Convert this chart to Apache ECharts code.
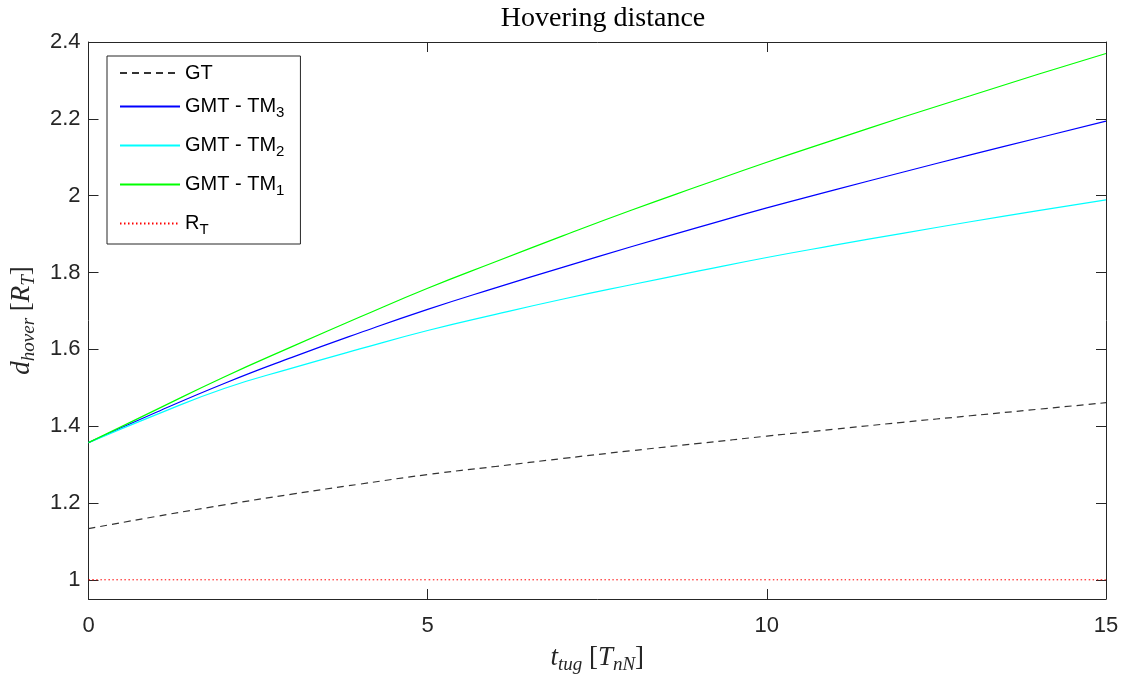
<!DOCTYPE html>
<html>
<head>
<meta charset="utf-8">
<script src="https://cdn.jsdelivr.net/npm/echarts@6/dist/echarts.min.js"></script>
<style>html,body{margin:0;padding:0;background:#fff}#c{width:1123px;height:674px}</style>
</head>
<body>
<div id="c"></div>
<script>
// ---- data ----
const tVals = [0, 1, 2, 3, 4, 5, 6, 7, 8, 9, 10, 11, 12, 13, 14, 15];
const gt    = [1.133, 1.165, 1.195, 1.223, 1.249, 1.274, 1.295, 1.316, 1.336, 1.355, 1.374, 1.392, 1.410, 1.427, 1.444, 1.461];
const tm3   = [1.357, 1.436, 1.511, 1.579, 1.643, 1.704, 1.760, 1.814, 1.867, 1.918, 1.968, 2.015, 2.061, 2.106, 2.150, 2.194];
const tm2   = [1.357, 1.430, 1.498, 1.551, 1.601, 1.649, 1.691, 1.731, 1.768, 1.804, 1.839, 1.871, 1.902, 1.932, 1.961, 1.989];
const tm1   = [1.357, 1.443, 1.528, 1.607, 1.684, 1.759, 1.828, 1.896, 1.962, 2.025, 2.087, 2.146, 2.204, 2.260, 2.316, 2.370];
const rt    = [1, 1, 1, 1, 1, 1, 1, 1, 1, 1, 1, 1, 1, 1, 1, 1];
const seriesNames = ['GT', 'GMT - TM3', 'GMT - TM2', 'GMT - TM1', 'RT'];
const legendLabels = ['GT', 'GMT - TM{s|3}', 'GMT - TM{s|2}', 'GMT - TM{s|1}', 'R{s|T}'];
const yTicks = [1, 1.2, 1.4, 1.6, 1.8, 2, 2.2, 2.4];
const xTicks = [0, 5, 10, 15];

const pairs = arr => tVals.map((t, i) => [t, arr[i]]);
const axisColor = '#262626';
const sans = "'Liberation Sans', Arial, Helvetica, sans-serif";
const serif = "'Liberation Serif', 'DejaVu Serif', serif";

const chart = echarts.init(document.getElementById('c'), null, {renderer: 'canvas'});

const mathRich = {
  i: {fontFamily: serif, fontStyle: 'italic', fontSize: 27, color: '#262626', lineHeight: 30},
  n: {fontFamily: serif, fontSize: 27, color: '#262626', lineHeight: 30},
  s: {fontFamily: serif, fontStyle: 'italic', fontSize: 19, color: '#262626', lineHeight: 19, padding: [14, 0, 0, 0]}
};

const lineSeries = (name, arr, color, type, width) => ({
  name: name, type: 'line', data: pairs(arr), symbol: 'none', smooth: true,
  xAxisIndex: 0, yAxisIndex: 0,
  lineStyle: {color: color, width: width, type: type}, itemStyle: {color: color},
  emphasis: {disabled: true}, animation: false
});

chart.setOption({
  animation: false,
  backgroundColor: '#ffffff',
  title: {
    text: 'Hovering distance', left: 598, top: 0, textAlign: 'center',
    textStyle: {fontFamily: serif, fontWeight: 'normal', fontSize: 28, color: '#000'}
  },
  grid: {left: 88.5, right: 17, top: 42, bottom: 75, containLabel: false, outerBoundsMode: 'none'},
  legend: {
    orient: 'vertical', left: 107, top: 56,
    itemWidth: 60, itemHeight: 14, itemGap: 4,
    padding: [5, 16, 3, 12],
    borderColor: axisColor, borderWidth: 1, backgroundColor: '#fff',
    itemStyle: {color: 'rgba(0,0,0,0)', borderWidth: 0, opacity: 0},
    data: seriesNames,
    formatter: name => legendLabels[seriesNames.indexOf(name)],
    textStyle: {
      fontFamily: sans, fontSize: 20, color: '#000', lineHeight: 24,
      rich: {s: {fontFamily: sans, fontSize: 15, color: '#000', lineHeight: 15, padding: [16, 0, 4, 0]}}
    }
  },
  xAxis: [{
    type: 'value', min: 0, max: 15, interval: 5, position: 'bottom',
    name: '{i|t}{s|tug}  {n|[}{i|T}{s|nN}{n|]}', nameLocation: 'middle', nameGap: 36,
    nameTextStyle: {rich: mathRich},
    axisLine: {show: true, onZero: false, lineStyle: {color: axisColor, width: 1}},
    axisTick: {show: true, inside: true, length: 10, lineStyle: {color: axisColor}},
    axisLabel: {fontFamily: sans, fontSize: 22, color: axisColor, margin: 16},
    splitLine: {show: false}
  }, {
    type: 'value', min: 0, max: 15, interval: 5, position: 'top',
    axisLine: {show: true, onZero: false, lineStyle: {color: axisColor, width: 1}},
    axisTick: {show: true, inside: true, length: 10, lineStyle: {color: axisColor}},
    axisLabel: {show: false}, splitLine: {show: false}
  }],
  yAxis: [{
    type: 'value', min: 0.95, max: 2.4, position: 'left',
    name: '{i|d}{s|hover}  {n|[}{i|R}{s|T}{n|]}', nameLocation: 'middle', nameGap: 52,
    nameTextStyle: {rich: mathRich},
    axisLine: {show: true, onZero: false, lineStyle: {color: axisColor, width: 1}},
    axisTick: {show: true, inside: true, length: 10, lineStyle: {color: axisColor}, customValues: yTicks},
    axisLabel: {fontFamily: sans, fontSize: 22, color: axisColor, margin: 8, customValues: yTicks},
    splitLine: {show: false}
  }, {
    type: 'value', min: 0.95, max: 2.4, position: 'right',
    axisLine: {show: true, onZero: false, lineStyle: {color: axisColor, width: 1}},
    axisTick: {show: true, inside: true, length: 10, lineStyle: {color: axisColor}, customValues: yTicks},
    axisLabel: {show: false, customValues: yTicks}, splitLine: {show: false}
  }],
  series: [
    lineSeries(seriesNames[0], gt, '#333333', [7, 5], 1.2),
    lineSeries(seriesNames[1], tm3, '#0000ff', 'solid', 1.2),
    lineSeries(seriesNames[2], tm2, '#00ffff', 'solid', 1.2),
    lineSeries(seriesNames[3], tm1, '#00ff00', 'solid', 1.2),
    lineSeries(seriesNames[4], rt, '#ff0000', [1.5, 2.5], 1)
  ]
});
</script>
</body>
</html>
